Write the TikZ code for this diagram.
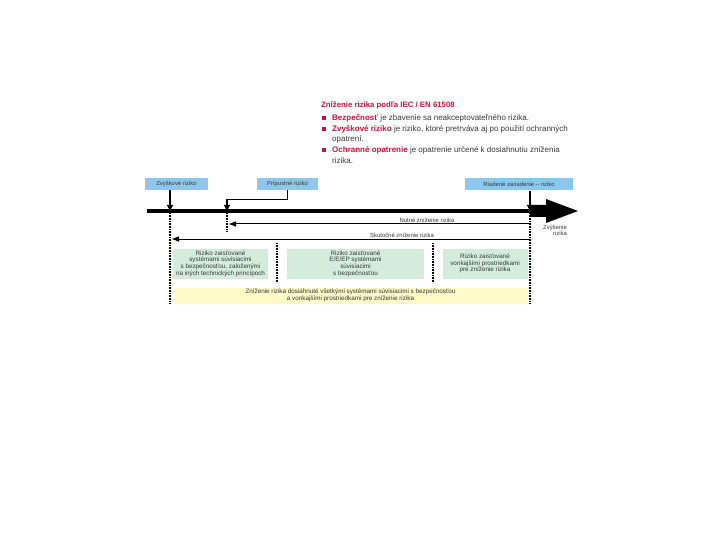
\documentclass[tikz,border=0pt]{standalone}
\usepackage{fontspec}
\setmainfont{Liberation Sans}
\usetikzlibrary{arrows.meta}
\definecolor{kred}{RGB}{200,20,60}
\definecolor{kblue}{RGB}{140,200,238}
\definecolor{kgreen}{RGB}{212,236,220}
\definecolor{kyellow}{RGB}{255,250,200}
\definecolor{ktext}{RGB}{55,55,55}
\tikzset{
  small/.style={font=\fontsize{5.9}{6.7}\selectfont, text=ktext, inner sep=0pt, align=center},
  boxtext/.style={font=\fontsize{6.3}{6.7}\selectfont, text=ktext, inner sep=0pt, align=center},
  bluebox/.style={small, fill=kblue, minimum height=12pt},
  greenbox/.style={boxtext, fill=kgreen, minimum height=30pt},
  yellowbox/.style={boxtext, fill=kyellow, minimum height=16pt},
  arr/.style={line width=1.1pt, -{Triangle[length=6pt,width=6pt]}},
  harr/.style={line width=1pt, -{Triangle[length=7pt,width=5pt]}},
  dotline/.style={line width=1.1pt, dash pattern=on 0.8pt off 0.8pt},
  bultext/.style={font=\fontsize{8}{10.5}\selectfont, text=ktext, inner sep=0pt, anchor=west, align=left},
  bul/.style={fill=kred, minimum size=4pt, inner sep=0pt}
}
\begin{document}
\begin{tikzpicture}[x=1pt,y=-1pt]
\useasboundingbox (0,0) rectangle (720,540);
% header text
\node[bultext, text=kred, font=\fontsize{7.8}{9}\selectfont\bfseries] (title) at (321,105) {Zníženie rizika podľa IEC / EN 61508};
\node[bul] (b1) at (324,118) {};
\node[bultext, anchor=north west] (t1) at (332,114.0) {\textcolor{kred}{\bfseries Bezpečnosť} je zbavenie sa neakceptovateľného rizika.};
\node[bul] (b2) at (324,129) {};
\node[bultext, anchor=north west] (t2) at (332,125.0) {\textcolor{kred}{\bfseries Zvyškové riziko} je riziko, ktoré pretrváva aj po použití ochranných\\opatrení.};
\node[bul] (b3) at (324,150.5) {};
\node[bultext, anchor=north west] (t3) at (332,146.5) {\textcolor{kred}{\bfseries Ochranné opatrenie} je opatrenie určené k dosiahnutiu zníženia\\rizika.};
% top boxes
\node[bluebox, minimum width=63pt] (zr) at (176.5,184) {Zvyškové riziko};
\node[bluebox, minimum width=61pt] (pr) at (287.5,184) {Prípustné riziko};
\node[bluebox, minimum width=108pt] (rz) at (519,184.5) {Riadené zariadenie – riziko};
% axis
\coordinate (ax1) at (170,211);
\coordinate (ax2) at (227,211);
\coordinate (ax3) at (530,211);
\coordinate (axs) at (147,211);
\draw[line width=3.6pt] (axs) -- (ax3);
\fill (530,205) -- (546,205) -- (546,199) -- (578,211) -- (546,223) -- (546,217) -- (530,217) -- cycle;
\node[small, align=right, anchor=north east] (zv) at (567,224.5) {Zvýšenie\\rizika};
% arrows from boxes
\draw[arr] (zr.south -| ax1) -- (ax1);
\draw[arr] (pr.south) -- ++(0,9) -| (ax2);
\draw[arr] (rz.south -| ax3) -- (ax3);
% dotted lines
\coordinate (d1) at (170,303);
\coordinate (d2) at (227,232);
\coordinate (d3) at (530,303);
\draw[dotline] (ax1) ++(0,2) -- (d1);
\draw[dotline] (ax2) ++(0,2) -- (d2);
\draw[dotline] (ax3) ++(0,2) -- (d3);
\coordinate (d4a) at (277,243); \coordinate (d4b) at (277,283);
\coordinate (d5a) at (433,243); \coordinate (d5b) at (433,283);
\draw[dotline] (d4a) -- (d4b);
\draw[dotline] (d5a) -- (d5b);
% horizontal arrows
\coordinate (n1) at (530,224);
\coordinate (s1) at (530,239);
\draw[harr] (n1) -- (229,224);
\draw[harr] (s1) -- (172,239);
\node[small, anchor=south] (nl) at (427,222.5) {Nutné zníženie rizika};
\node[small, anchor=south] (sl) at (402,237.5) {Skutočné zníženie rizika};
% green boxes
\node[greenbox, minimum width=95pt] (g1) at (220.5,263.5) {Riziko zaisťované\\systémami súvisiacimi\\s bezpečnosťou, založenými\\na iných technických princípoch};
\node[greenbox, minimum width=137pt] (g2) at (355.5,263.5) {Riziko zaisťované\\E/E/EP systémami\\súvisiacimi\\s bezpečnosťou};
\node[greenbox, minimum width=85pt] (g3) at (485,263.5) {Riziko zaisťované\\vonkajšími prostriedkami\\pre zníženie rizika};
% yellow box
\node[yellowbox, minimum width=355pt] (y1) at (350.5,295.5) {Zníženie rizika dosiahnuté všetkými systémami súvisiacimi s bezpečnosťou\\a vonkajšími prostriedkami pre zníženie rizika};
\end{tikzpicture}
\end{document}
